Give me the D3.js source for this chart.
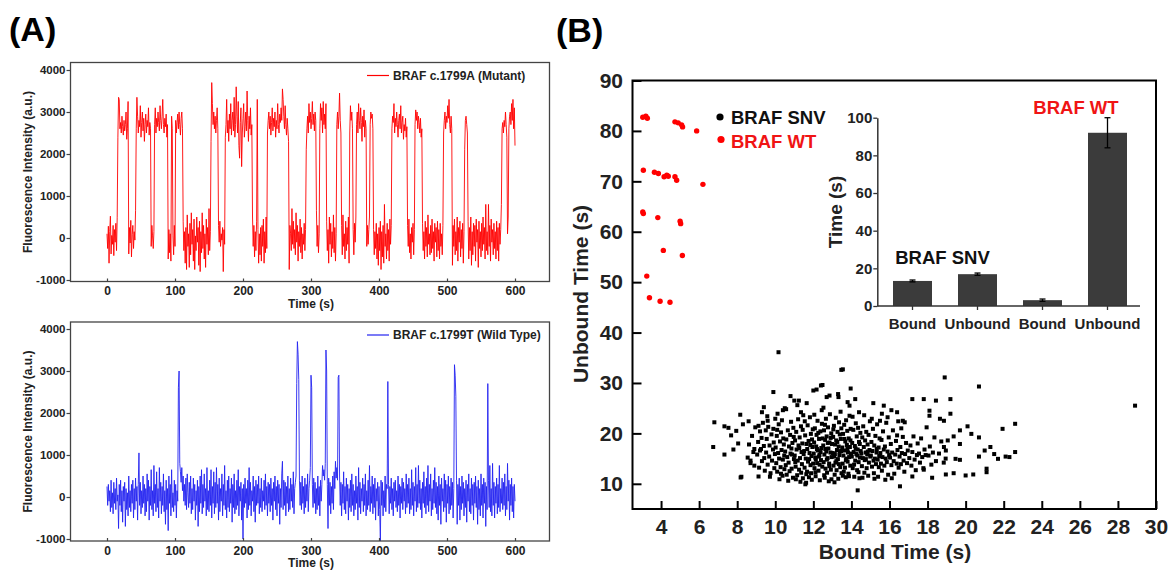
<!DOCTYPE html>
<html><head><meta charset="utf-8">
<script src="https://cdn.jsdelivr.net/npm/d3@7"></script>
<style>
body{margin:0;background:#fff}
svg{display:block}
text{font-family:"Liberation Sans",Arial,sans-serif;font-weight:bold}
</style></head>
<body><svg id="c" width="1174" height="572"></svg>
<script>
// ---------------- DATA ----------------
// Panel A: fluorescence traces, one sample per second (t = 0..600 s)
const mutantTrace = [
100,-250,280,-600,150,520,-380,60,-150,300,
-420,200,-100,350,-300,480,
2400,3350,3300,2600,2750,2500,2900,2650,2450,2800,2550,2700,3000,2350,2600,
3250,
-380,250,-120,420,-450,80,300,-250,150,-50,650,
2600,3350,2900,2500,2800,2650,3150,2400,2750,3000,2550,2850,2300,2700,2950,2500,2800,2650,3100,2450,2750,2600,
-200,300,50,-250,150,
2700,3100,2500,2850,2650,3000,2750,2550,3150,2800,2600,2900,3300,2700,2500,2850,2650,2950,2400,2700,
-500,200,-350,100,-550,
2900,2600,
50,-400,300,-200,
2800,
2500,2750,2950,2600,3000,2700,2450,2850,3000,2600,
400,-300,150,-600,250,-750,550,-200,100,-700,350,-400,600,-150,200,-550,450,-750,50,-300,500,-100,250,-650,400,-800,150,-350,600,-250,300,-500,100,-700,450,-150,250,-400,700,-300,150,
2300,3700,3200,2700,3000,2600,2900,2500,2800,3100,2600,
300,-100,400,-200,100,-50,250,-800,200,-150,
2400,2700,3300,2500,2800,2300,2950,2600,3200,2450,2800,3000,2550,3350,2400,2700,3600,2900,2500,3250,2200,1900,2750,3100,1700,2500,2850,3200,2400,2650,3000,2550,3500,2800,2300,2900,2600,3100,2450,2700,
500,-200,300,-450,150,-300,400,3300,200,-600,100,-400,250,-550,300,-200,450,-600,150,-350,500,-250,
2500,2800,3000,2600,2900,2450,2750,3100,2550,2850,2650,3000,2400,2800,2600,3200,2700,2500,2950,2750,3100,2800,3550,3300,2900,2600,3150,2700,2450,2850,2600,2300,
-750,300,100,-300,700,-150,400,-250,200,-400,600,-100,300,-550,150,-200,450,-350,250,-500,100,-150,350,-300,200,
2100,2600,2900,2500,3200,2750,3000,2600,2850,3250,2700,2950,2550,3000,2800,
650,-200,300,-350,100,
2600,3200,2800,3100,2500,3250,2700,2950,2600,3200,
400,-300,200,-600,500,-150,350,-450,150,-250,550,-350,250,-550,100,
2700,3000,2600,2900,3450,2800,2500,
300,-400,550,-200,100,-500,400,-300,250,-150,500,-600,
2500,3150,2800,3000,2600,
200,-400,350,-100,500,
2700,3000,2500,3200,2800,2600,3100,2750,2300,2900,2650,3050,2400,2800,2600,
-200,300,-150,200,500,
2700,3000,2850,2950,2600,
200,-400,150,-250,350,-500,100,-650,250,-300,400,-750,150,-450,300,-600,800,-200,100,-500,350,-300,200,-550,450,-150,300,
2600,2900,2750,3200,2500,2850,2650,3000,2700,2400,2800,2950,2600,3150,2500,2750,2900,2350,2700,2550,2850,2400,2650,
300,-200,450,-350,100,-500,250,-100,350,-400,200,
2700,3050,2800,3000,2600,2900,2750,2500,2850,2400,2600,
350,-300,150,-500,400,-200,250,-450,550,-150,100,-400,300,-350,450,-250,150,-550,350,-100,250,-450,400,-300,200,-500,350,-200,100,-400,300,
2500,2800,3000,2600,2900,2750,3150,2850,3300,2700,2500,2900,2600,
-650,300,-200,450,-400,150,-300,500,-550,250,-100,400,-450,200,-250,350,-600,150,
2100,2800,2900,2700,2500,
400,-500,250,-300,500,-650,150,-400,350,-200,300,-550,450,-100,200,-700,400,-250,150,-450,350,-300,500,-150,250,-500,800,-300,150,-400,800,-200,300,-550,450,-100,200,-400,350,-250,150,-500,400,-300,250,-550,350,-150,200,
800,2600,2750,2500,2800,2650,3000,2700,2400,
100,500,
2600,2900,3000,2700,3200,2800,3300,2600,3100,2200
];
const wildTrace = [
250,-200,300,-100,150,-350,400,-250,100,-400,350,-150,200,-300,450,-100,50,-750,300,-200,
400,-350,150,-600,250,-100,350,-700,200,-300,100,-450,500,-250,150,-350,300,-150,400,-500,
200,-300,450,-100,250,-550,300,1050,-200,350,-400,150,-250,500,-150,300,-450,200,-350,550,
-100,400,-550,250,-200,650,-300,150,-450,750,-150,300,-350,600,-250,200,-500,700,-100,350,
-400,250,-200,550,-350,150,-650,400,-300,200,-800,500,-150,300,-450,650,-250,100,-350,400,
-200,300,-500,150,-100,2600,3000,800,600,350,700,150,500,-100,300,-200,450,-300,550,100,
-250,350,-150,500,-400,200,-300,450,-100,300,-550,150,-200,400,-700,250,-350,500,-150,650,
-400,300,-250,550,-100,200,-450,700,-300,150,-350,400,-200,650,-500,250,-150,600,-400,350,
-250,700,-150,300,-550,450,-350,200,-100,550,-450,300,-200,750,-300,150,-500,400,-250,500,
-350,200,-150,450,-600,300,-250,550,-400,150,-300,400,-200,650,-450,250,-100,350,-550,200,
-1000,300,-250,450,-150,200,-500,400,-300,700,-200,350,-450,150,-100,500,-350,250,-600,400,
-200,300,-150,500,-400,200,-250,450,-350,150,-100,400,-300,550,-200,250,-450,350,-150,300,
-350,450,-200,200,-550,350,-100,500,-300,250,-450,400,-150,300,-650,200,-250,550,850,-300,
400,-200,350,-450,250,-150,500,-350,200,-300,450,-100,300,-250,600,-400,200,350,500,2700,
3700,3400,2800,400,-200,350,-300,500,-150,250,-400,450,-250,300,-100,550,-350,200,400,700,
2900,2600,300,-250,450,-150,350,-400,200,-300,500,-200,250,-450,400,-100,300,750,500,650,
400,800,3500,3000,300,-750,450,-200,350,-400,250,-150,500,-300,600,200,850,450,700,400,
2850,2900,500,-200,350,-450,300,-150,600,-300,250,-400,450,-100,300,-550,200,-250,400,-350,
550,-200,300,-450,150,-300,500,-150,250,-550,700,-250,350,-400,200,-100,450,-350,300,-200,
550,-450,150,-300,400,-200,750,-350,250,-150,500,-400,300,-250,450,-550,200,-100,350,-450,
250,-300,-1050,400,-200,350,-450,150,-250,500,-350,300,200,2750,300,-400,250,-150,450,-300,
200,-450,350,-100,400,-250,150,-350,500,-200,300,-500,250,-150,450,-300,350,-100,200,-400,
550,-250,300,-150,450,-400,200,-300,650,-200,350,-450,250,-100,700,-350,300,-250,750,-150,
400,-300,200,-500,350,-150,600,-250,250,-400,450,-200,750,-350,300,-100,550,-450,200,-300,
400,-150,700,-250,350,-400,250,-550,500,-200,300,-650,450,-100,200,-350,550,-250,400,-600,
300,-150,500,-400,250,-300,450,-200,350,-500,200,3150,2900,2400,400,-650,300,-200,450,-550,
250,-300,500,-150,350,-450,200,-250,400,-600,300,-100,550,-350,200,-400,450,-200,300,-550,
350,-150,500,-250,250,-650,400,-300,200,-450,550,-200,300,-500,450,-150,350,-700,250,-300,
2700,400,-250,750,-350,200,-450,800,-200,350,-500,250,-150,450,-400,300,-250,750,-350,200,
-150,450,-300,350,-200,550,-450,250,-300,800,-100,400,-550,300,-200,450,-350,250,-500,300,
-100
];
const sampleStep = 1; // seconds per sample
const traceXTicks = [0,100,200,300,400,500,600];
const traceYTicks = [-1000,0,1000,2000,3000,4000];

// Panel B: scatter (bound time, unbound time)
const wtPoints = [
[3.04,82.7],[3.2,82.9],[3.28,82.5],[4.73,81.8],[4.9,81.6],[5.08,81.2],[5.13,80.8],[5.87,80.0],
[3.07,72.2],[3.65,71.8],[3.86,71.55],[4.16,70.9],[4.3,71.2],[4.38,71.0],[4.73,70.9],[4.82,70.2],[6.2,69.4],
[3.04,63.9],[3.07,63.6],[3.83,62.8],[5.0,62.1],[5.03,61.6],[4.12,56.3],[5.12,55.3],
[3.25,51.2],[3.39,46.9],[3.95,46.2],[4.47,46.0]
];
const snvPoints = [
// outliers / sparse region
[10.17,36.1],[13.47,32.6],[13.55,32.7],[18.9,31.1],[20.7,29.3],[28.9,25.5],[9.9,28.2],[12.17,28.7],[12.48,29.6],[13.96,28.9],
[6.8,22.2],[6.74,17.3],[7.33,21.4],[7.54,21.1],[7.68,19.6],[7.8,16.8],[8.16,23.7],[8.3,21.8],[8.18,11.25],[8.22,11.4],
[9.12,11.45],[10.3,12.0],[14.33,8.7],[16.55,9.5],[17.2,26.8],[17.8,26.8],[18.1,24.5],[18.1,23.5],[18.44,26.5],[18.65,22.9],
[18.86,22.5],[19.2,26.8],[19.2,23.9],[19.7,20.6],[20.1,21.4],[20.3,19.9],[20.7,19.2],[20.7,15.4],[21.0,16.6],[21.1,13.0],
[21.1,12.3],[21.3,17.3],[21.5,15.9],[21.7,14.95],[21.94,20.9],[22.1,15.4],[22.3,15.3],[22.6,21.9],[22.6,16.3],[20.4,11.85],
[20.0,11.65],[19.37,12.1],[18.96,11.85],[18.24,11.2],[17.8,12.8],[17.2,11.45],[19.47,14.95],[19.7,14.75],[18.86,17.3],[18.96,16.6],
[19.06,18.6],[19.37,19.4],[19.7,17.9],[7.33,15.8],[8.7,14.6],[8.9,16.9],[9.2,16.6],[9.3,24.2],[9.4,25.2],[9.5,20.6],
[9.6,22.5],[10.0,22.9],[10.1,20.7],[10.4,24.6],[10.5,25.0],[10.8,27.4],[11.0,26.5],[11.24,26.5],[11.35,24.2],[11.65,26.0],
[12.0,28.5],[12.4,29.5],[12.7,27.2],[12.85,27.5],[13.3,27.8],[13.32,27.2],[13.8,26.2],[13.9,25.5],[14.2,26.8],[14.4,24.2],
[15.15,26.0],[15.7,25.5],[16.1,24.6],[16.4,24.2],[16.7,22.5],[16.8,22.2],[15.9,23.2],[15.5,22.5],[7.95,20.5],[8.05,18.0],
// dense core
[8.55,15.2],[8.62,17.8],[8.7,14.1],[8.78,19.5],[8.85,16.3],[8.9,13.6],[8.95,21.2],[8.6,22.4],
[9.05,15.8],[9.1,18.3],[9.15,13.2],[9.2,20.4],[9.25,16.9],[9.3,14.5],[9.35,22.1],[9.4,17.5],[9.45,12.6],[9.12,21.5],[9.28,19.1],[9.42,15.1],
[9.52,16.2],[9.55,18.9],[9.6,13.8],[9.63,21.3],[9.68,15.4],[9.7,17.6],[9.75,12.1],[9.8,19.8],[9.83,14.6],[9.88,16.8],[9.9,20.9],[9.95,13.1],[9.58,23.4],[9.72,11.4],[9.92,18.2],[9.98,15.9],
[10.02,17.2],[10.05,14.1],[10.08,19.5],[10.1,12.4],[10.15,16.1],[10.18,21.8],[10.2,15.0],[10.25,18.4],[10.28,13.3],[10.3,20.2],[10.33,16.7],[10.38,11.6],[10.4,14.8],[10.42,19.0],[10.45,17.8],[10.48,12.9],[10.12,23.9],[10.35,22.6],[10.22,10.9],[10.47,15.6],
[10.52,16.4],[10.55,13.7],[10.58,18.8],[10.6,11.8],[10.63,15.3],[10.66,20.6],[10.7,14.2],[10.72,17.4],[10.75,12.5],[10.78,19.7],[10.8,16.0],[10.83,22.3],[10.86,13.0],[10.88,15.8],[10.9,18.1],[10.93,11.2],[10.95,21.1],[10.98,14.9],[10.57,24.8],[10.68,10.6],[10.85,17.0],[10.97,19.3],
[11.02,15.6],[11.04,18.6],[11.07,13.4],[11.1,20.3],[11.12,16.8],[11.15,11.7],[11.18,14.6],[11.2,22.8],[11.22,17.6],[11.25,12.8],[11.28,19.2],[11.3,15.1],[11.32,10.4],[11.35,21.4],[11.38,16.3],[11.4,13.9],[11.42,18.0],[11.45,11.1],[11.47,23.6],[11.49,15.9],[11.08,10.9],[11.16,25.6],[11.26,17.1],[11.36,12.2],[11.44,20.7],[11.05,14.3],
[11.52,16.5],[11.54,13.2],[11.57,19.6],[11.6,15.0],[11.62,10.2],[11.64,17.9],[11.67,12.4],[11.7,21.6],[11.72,14.4],[11.75,18.5],[11.77,11.3],[11.8,16.1],[11.82,23.2],[11.85,13.7],[11.87,19.9],[11.9,15.5],[11.92,10.8],[11.95,17.3],[11.97,20.8],[11.99,14.0],[11.55,22.4],[11.63,11.9],[11.68,16.9],[11.78,14.9],[11.84,17.7],[11.88,12.1],[11.93,18.8],[11.58,9.9],
[12.02,16.0],[12.04,18.2],[12.06,13.1],[12.08,21.0],[12.1,15.2],[12.12,11.5],[12.15,17.4],[12.17,19.7],[12.2,14.1],[12.22,22.5],[12.24,16.6],[12.27,12.6],[12.3,18.9],[12.32,15.7],[12.34,10.7],[12.37,20.4],[12.4,14.7],[12.42,17.1],[12.44,24.6],[12.47,13.4],[12.49,19.0],[12.05,23.7],[12.13,14.8],[12.19,16.9],[12.26,20.1],[12.33,13.8],[12.38,16.3],[12.45,21.9],[12.11,12.3],[12.29,15.4],
[12.52,17.6],[12.54,14.3],[12.56,20.6],[12.58,15.8],[12.6,11.2],[12.62,18.7],[12.64,13.0],[12.66,22.9],[12.68,16.4],[12.7,19.4],[12.72,12.2],[12.75,15.1],[12.77,21.2],[12.79,17.0],[12.81,10.5],[12.83,14.0],[12.85,18.2],[12.87,23.8],[12.9,16.2],[12.92,12.8],[12.94,20.0],[12.96,15.3],[12.98,17.9],[12.53,25.1],[12.57,11.7],[12.63,16.9],[12.71,14.8],[12.76,18.1],[12.84,13.5],[12.91,19.1],[12.95,10.9],[12.61,21.7],
[13.02,16.1],[13.04,19.3],[13.06,13.6],[13.08,21.5],[13.1,15.4],[13.12,11.8],[13.14,17.8],[13.16,14.2],[13.18,23.1],[13.2,18.6],[13.22,12.7],[13.24,16.7],[13.27,20.3],[13.29,14.9],[13.31,11.0],[13.33,17.4],[13.35,22.2],[13.37,15.7],[13.39,19.8],[13.41,13.3],[13.43,24.3],[13.46,16.5],[13.48,12.1],[13.05,20.8],[13.13,15.9],[13.21,14.5],[13.26,18.3],[13.34,13.9],[13.38,16.4],[13.44,18.9],[13.47,21.0],[13.11,10.3],
[13.52,17.2],[13.54,14.0],[13.56,19.9],[13.58,15.6],[13.6,12.4],[13.62,21.7],[13.64,16.6],[13.66,13.2],[13.68,18.4],[13.7,11.3],[13.72,22.6],[13.74,15.0],[13.76,17.7],[13.78,20.5],[13.8,14.4],[13.82,16.2],[13.84,12.0],[13.86,19.0],[13.88,15.3],[13.9,23.5],[13.92,17.3],[13.94,13.6],[13.96,20.9],[13.98,16.0],[13.55,11.6],[13.63,18.9],[13.71,14.7],[13.79,16.9],[13.87,11.5],[13.95,18.6],
[14.02,15.4],[14.04,18.1],[14.07,13.1],[14.1,20.7],[14.12,16.3],[14.15,11.4],[14.18,17.5],[14.2,14.6],[14.23,22.0],[14.26,15.9],[14.28,19.4],[14.3,12.7],[14.33,16.8],[14.35,21.1],[14.38,14.3],[14.4,18.3],[14.42,11.1],[14.45,15.2],[14.47,20.1],[14.49,16.5],[14.06,23.3],[14.14,13.8],[14.22,17.0],[14.31,15.6],[14.37,12.3],[14.44,17.9],
[14.52,16.0],[14.55,13.5],[14.57,19.2],[14.6,15.1],[14.62,21.4],[14.65,17.3],[14.68,12.2],[14.7,14.7],[14.72,18.6],[14.75,16.2],[14.78,20.3],[14.8,13.1],[14.83,15.8],[14.85,17.8],[14.88,11.6],[14.9,19.7],[14.92,14.2],[14.95,16.7],[14.97,22.4],[14.99,15.4],[14.58,11.2],[14.67,23.6],[14.76,14.9],[14.86,16.4],
[15.02,15.6],[15.05,18.3],[15.08,13.4],[15.1,16.5],[15.13,20.9],[15.16,14.6],[15.18,12.1],[15.2,17.6],[15.23,15.0],[15.26,19.5],[15.29,13.9],[15.32,16.2],[15.35,21.8],[15.38,14.8],[15.4,11.4],[15.43,17.2],[15.46,15.5],[15.48,19.0],[15.07,22.9],[15.21,11.0],[15.33,16.9],[15.44,13.3],
[15.52,16.1],[15.55,14.0],[15.58,18.7],[15.6,12.6],[15.63,15.3],[15.66,20.4],[15.7,16.8],[15.73,13.6],[15.76,17.4],[15.8,15.0],[15.83,22.1],[15.86,14.3],[15.9,16.4],[15.93,11.8],[15.96,19.2],[15.98,15.7],[15.6,23.9],[15.78,10.8],
[16.03,15.2],[16.07,17.9],[16.1,13.7],[16.14,16.2],[16.18,20.6],[16.22,14.5],[16.25,12.0],[16.3,15.8],[16.34,18.5],[16.38,14.0],[16.42,16.7],[16.46,22.4],[16.48,13.2],[16.12,11.1],[16.4,19.6],
[16.53,15.4],[16.57,17.3],[16.6,13.9],[16.65,16.1],[16.7,19.3],[16.74,14.6],[16.78,12.4],[16.82,15.9],[16.87,18.1],[16.92,14.1],[16.96,16.6],[16.62,21.0],
[17.04,15.1],[17.1,17.6],[17.15,13.6],[17.2,16.3],[17.26,19.4],[17.32,14.8],[17.38,12.7],[17.44,15.7],[17.48,18.0],
[17.55,16.0],[17.6,14.2],[17.66,19.0],[17.72,15.3],[17.78,13.1],[17.84,16.8],[17.9,15.7],[17.95,21.2],
[18.05,15.6],[18.12,17.4],[18.2,13.8],[18.28,16.2],[18.36,19.2],[18.44,14.5],
[18.6,16.0],[18.72,18.4],[18.85,14.2],[18.95,15.0]
];
const scatterXTicks = [4,6,8,10,12,14,16,18,20,22,24,26,28,30];
const scatterYTicks = [10,20,30,40,50,60,70,80,90];

// Inset bar chart
const barLabels = ["Bound","Unbound","Bound","Unbound"];
const barValues = [13.3,16.9,3.1,92];
const barErrors = [0.5,0.6,0.6,8];
const barYTicks = [0,20,40,60,80,100];

// ---------------- DRAW ----------------
const svg = d3.select("#c");
const RED = "#ff0000", BLUE = "#2424f0", WTRED = "#f01414";
const plain = d => String(d);

// panel labels
svg.append("text").attr("x",9).attr("y",41).attr("font-size",34).text("(A)");
svg.append("text").attr("x",556).attr("y",42).attr("font-size",34).text("(B)");

// ---- Panel A ----
const xA = d3.scaleLinear().domain([0,600]).range([107,515]);
const boxL = 70.5, boxR = 549.5;
function tracePanel(top, bottom, y0, trace, color, legendText){
  const y = d3.scaleLinear().domain([-1000,4000]).range([y0+210, y0]);
  const g = svg.append("g");
  const clipId = "clip"+Math.round(top);
  g.append("clipPath").attr("id",clipId).append("rect")
    .attr("x",boxL).attr("y",top).attr("width",boxR-boxL).attr("height",bottom-top);
  const line = d3.line().x((d,i)=>xA(i*sampleStep)).y(d=>y(d));
  g.append("path").datum(trace).attr("clip-path",`url(#${clipId})`)
    .attr("d",line).attr("fill","none").attr("stroke",color).attr("stroke-width",0.9);
  g.append("rect").attr("x",boxL).attr("y",top).attr("width",boxR-boxL).attr("height",bottom-top)
    .attr("fill","none").attr("stroke","#444").attr("stroke-width",1.3);
  const ax = g.append("g").attr("transform",`translate(0,${bottom})`)
    .call(d3.axisBottom(xA).tickValues(traceXTicks).tickFormat(plain).tickSizeInner(-3).tickSizeOuter(0).tickPadding(5));
  ax.select(".domain").remove();
  ax.selectAll("line").attr("stroke","#444").attr("stroke-width",1.2);
  ax.selectAll("text").attr("font-size",12).attr("fill","#222").attr("font-family",null);
  const ay = g.append("g").attr("transform",`translate(${boxL},0)`)
    .call(d3.axisLeft(y).tickValues(traceYTicks).tickFormat(plain).tickSize(4).tickPadding(1));
  ay.select(".domain").remove();
  ay.selectAll("line").attr("stroke","#444").attr("stroke-width",1.2);
  ay.selectAll("text").attr("font-size",11.5).attr("fill","#222").attr("font-family",null);
  g.append("text").attr("transform",`translate(28,${(top+bottom)/2}) rotate(-90)`)
    .attr("text-anchor","middle").attr("dominant-baseline","central").attr("font-size",12).attr("fill","#222")
    .text("Fluorescence Intensity (a.u.)");
  g.append("text").attr("x",311).attr("y",bottom+26).attr("text-anchor","middle").attr("font-size",12).attr("fill","#222")
    .text("Time (s)");
  const ly = top + 13;
  g.append("line").attr("x1",367).attr("x2",389).attr("y1",ly).attr("y2",ly).attr("stroke",color).attr("stroke-width",1.2);
  g.append("text").attr("x",393).attr("y",ly+4.2).attr("font-size",12).attr("fill","#222").text(legendText);
}
tracePanel(62.5, 281.5, 70, mutantTrace, RED, "BRAF c.1799A (Mutant)");
tracePanel(322, 541, 329, wildTrace, BLUE, "BRAF c.1799T (Wild Type)");

// ---- Panel B ----
const xB = d3.scaleLinear().domain([2.5,30]).range([632.5,1156]);
const yB = d3.scaleLinear().domain([5,90]).range([509,80.5]);
const gB = svg.append("g");
gB.append("g").selectAll("rect").data(snvPoints).join("rect")
  .attr("x",d=>xB(d[0])-2).attr("y",d=>yB(d[1])-2).attr("width",4).attr("height",4).attr("fill","#000");
gB.append("g").selectAll("circle").data(wtPoints).join("circle")
  .attr("cx",d=>xB(d[0])).attr("cy",d=>yB(d[1])).attr("r",2.7).attr("fill","#ff0000");
const bx = gB.append("g").attr("transform","translate(0,509)")
  .call(d3.axisBottom(xB).tickValues(scatterXTicks).tickFormat(plain).tickSizeInner(-8).tickSizeOuter(0).tickPadding(10.5));
bx.select(".domain").remove();
bx.selectAll("line").attr("stroke","#000").attr("stroke-width",2);
bx.selectAll("text").attr("font-size",21).attr("fill","#222").attr("font-family",null);
const by = gB.append("g").attr("transform","translate(632.5,0)")
  .call(d3.axisLeft(yB).tickValues(scatterYTicks).tickFormat(plain).tickSizeInner(-9).tickSizeOuter(0).tickPadding(9.5));
by.select(".domain").remove();
by.selectAll("line").attr("stroke","#000").attr("stroke-width",2);
by.selectAll("text").attr("font-size",21).attr("fill","#222").attr("font-family",null);
gB.append("rect").attr("x",632.5).attr("y",80.5).attr("width",1156-632.5).attr("height",509-80.5)
  .attr("fill","none").attr("stroke","#000").attr("stroke-width",2);
gB.append("text").attr("transform","translate(580,294) rotate(-90)").attr("text-anchor","middle")
  .attr("dominant-baseline","central").attr("font-size",21).attr("fill","#222").text("Unbound Time (s)");
gB.append("text").attr("x",895).attr("y",558.5).attr("text-anchor","middle").attr("font-size",21).attr("fill","#222").text("Bound Time (s)");
// legend
gB.append("circle").attr("cx",720).attr("cy",117).attr("r",3.6).attr("fill","#000");
gB.append("text").attr("x",731).attr("y",124).attr("font-size",18.5).attr("fill","#111").text("BRAF SNV");
gB.append("circle").attr("cx",721).attr("cy",139.5).attr("r",3.6).attr("fill","#ff0000");
gB.append("text").attr("x",731).attr("y",148).attr("font-size",18.5).attr("fill",WTRED).text("BRAF WT");

// ---- Inset ----
const xIn = d3.scaleBand().domain(d3.range(barLabels.length)).range([880,1140]).paddingInner(0.4).paddingOuter(0.2);
const yIn = d3.scaleLinear().domain([0,100]).range([306,117.7]);
const gI = svg.append("g");
gI.selectAll("rect.bar").data(barValues).join("rect").attr("class","bar")
  .attr("x",(d,i)=>xIn(i)).attr("y",d=>yIn(d)).attr("width",xIn.bandwidth()).attr("height",d=>yIn(0)-yIn(d))
  .attr("fill","#3b3b3b");
const eb = gI.selectAll("g.err").data(barValues).join("g").attr("class","err");
eb.append("line").attr("x1",(d,i)=>xIn(i)+xIn.bandwidth()/2).attr("x2",(d,i)=>xIn(i)+xIn.bandwidth()/2)
  .attr("y1",(d,i)=>yIn(d-barErrors[i])).attr("y2",(d,i)=>yIn(d+barErrors[i])).attr("stroke","#000").attr("stroke-width",1.3);
[-1,1].forEach(s=>{
  eb.append("line").attr("x1",(d,i)=>xIn(i)+xIn.bandwidth()/2-3).attr("x2",(d,i)=>xIn(i)+xIn.bandwidth()/2+3)
    .attr("y1",(d,i)=>yIn(d+s*barErrors[i])).attr("y2",(d,i)=>yIn(d+s*barErrors[i])).attr("stroke","#000").attr("stroke-width",1.3);
});
const ix = gI.append("g").attr("transform","translate(0,306)")
  .call(d3.axisBottom(xIn).tickFormat(i=>barLabels[i]).tickSizeInner(4).tickSizeOuter(0).tickPadding(8));
ix.select(".domain").attr("d","M877.3,0H1140").attr("stroke","#333").attr("stroke-width",1.5);
ix.selectAll("line").attr("stroke","#333").attr("stroke-width",1.3);
ix.selectAll("text").attr("font-size",15).attr("fill","#222").attr("font-family",null);
const iy = gI.append("g").attr("transform","translate(877.3,0)")
  .call(d3.axisLeft(yIn).tickValues(barYTicks).tickFormat(plain).tickSizeInner(4).tickSizeOuter(0).tickPadding(1));
iy.select(".domain").attr("stroke","#333").attr("stroke-width",1.5);
iy.selectAll("line").attr("stroke","#333").attr("stroke-width",1.3);
iy.selectAll("text").attr("font-size",15).attr("fill","#222").attr("font-family",null);
gI.append("text").attr("transform","translate(835,212) rotate(-90)").attr("text-anchor","middle")
  .attr("dominant-baseline","central").attr("font-size",19).attr("fill","#222").text("Time (s)");
gI.append("text").attr("x",942.5).attr("y",263.5).attr("text-anchor","middle").attr("font-size",18.5).attr("fill","#111").text("BRAF SNV");
gI.append("text").attr("x",1076).attr("y",113.5).attr("text-anchor","middle").attr("font-size",18.5).attr("fill",WTRED).text("BRAF WT");
</script></body></html>
